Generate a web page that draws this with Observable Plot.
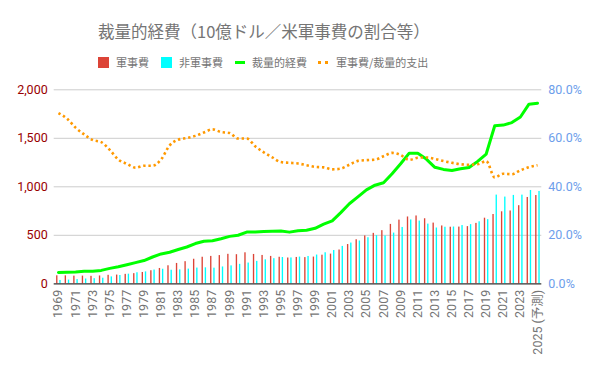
<!DOCTYPE html>
<html><head><meta charset="utf-8">
<script src="https://cdn.jsdelivr.net/npm/d3@7"></script>
<script src="https://cdn.jsdelivr.net/npm/@observablehq/plot@0.6"></script>
<style>
body{margin:0;background:#fff;font-family:Roboto,"Noto Sans CJK JP",sans-serif;}
#wrap{position:relative;width:600px;height:371px;overflow:hidden;background:#fff;}
#title{position:absolute;left:98px;top:21px;font-size:16.5px;line-height:20px;color:#757575;white-space:nowrap;font-family:"Noto Sans CJK JP",sans-serif;}
.lg{position:absolute;font-size:11px;line-height:14px;color:#757575;white-space:nowrap;font-family:"Noto Sans CJK JP",sans-serif;top:55px;}
.sw{position:absolute;}
#chart{position:absolute;left:0;top:80px;}
</style></head>
<body>
<div id="wrap">
  <div id="title">裁量的経費（10億ドル／米軍事費の割合等）</div>
  <div id="legend"></div>
  <div id="chart"></div>
</div>
<script>
const years = [1969,1970,1971,1972,1973,1974,1975,1976,1977,1978,1979,1980,1981,1982,1983,1984,1985,1986,1987,1988,1989,1990,1991,1992,1993,1994,1995,1996,1997,1998,1999,2000,2001,2002,2003,2004,2005,2006,2007,2008,2009,2010,2011,2012,2013,2014,2015,2016,2017,2018,2019,2020,2021,2022,2023,2024,2025];
// 軍事費 (10億ドル)
const defense = [82.6,81.9,79.0,79.3,77.1,80.7,87.6,89.9,97.5,104.6,116.8,134.6,158.0,185.9,209.9,228.0,253.1,273.8,282.5,290.9,304.0,300.1,319.7,302.6,292.4,282.3,273.6,266.0,271.7,270.2,275.5,295.0,306.1,348.5,404.8,454.1,493.6,520.0,547.9,612.4,656.7,688.9,699.4,670.5,625.8,596.4,583.4,584.8,589.6,622.9,676.4,714.4,742.2,750.7,805.4,890,910];
// 非軍事費 (10億ドル)
const nondefense = [34.8,38.4,43.7,49.5,52.9,57.6,71.2,85.6,99.3,113.9,122.9,141.8,149.9,140.0,143.4,151.4,162.1,164.7,161.1,173.5,184.8,200.4,214.0,231.2,247.0,259.1,271.1,266.6,275.6,281.8,296.4,319.9,343.0,385.5,420.0,441.4,474.7,496.6,493.5,522.8,580.8,658.2,646.7,615.4,575.1,583.1,585.4,600.4,610.1,639.3,661.3,914.5,894.1,911.2,914.2,962,952];
// 裁量的経費 (10億ドル)
const total = [117.4,120.3,122.7,128.8,130.0,138.3,158.8,175.5,196.8,218.5,239.7,276.3,307.9,325.8,353.3,379.4,415.2,438.5,443.6,464.4,488.8,500.6,533.7,533.8,539.4,541.4,544.8,532.7,547.3,552.0,572.0,614.8,649.0,734.0,824.8,895.5,968.3,1016.6,1041.4,1135.1,1237.5,1347.1,1346.1,1285.9,1200.9,1179.5,1168.8,1185.2,1199.7,1262.2,1337.7,1628.9,1636.3,1661.9,1719.6,1852,1862];
// 軍事費/裁量的支出 (%)
const ratio = [70.4,68.1,64.4,61.6,59.3,58.4,55.2,51.2,49.5,47.9,48.7,48.7,51.3,57.1,59.4,60.1,61.0,62.4,63.7,62.6,62.2,59.9,59.9,56.7,54.2,52.1,50.2,49.9,49.6,48.9,48.2,48.0,47.2,47.5,49.1,50.7,51.0,51.2,52.6,54.0,53.1,51.1,52.0,52.1,51.5,50.6,49.9,49.3,49.1,49.3,50.6,43.9,45.4,45.2,46.8,48.1,48.9];
const leftTicks = [0,500,1000,1500,2000];
const rightTicks = [0,20,40,60,80];
const xTicks = [1969,1971,1973,1975,1977,1979,1981,1983,1985,1987,1989,1991,1993,1995,1997,1999,2001,2003,2005,2007,2009,2011,2013,2015,2017,2019,2021,2023,2025];
const seriesNames = ["軍事費","非軍事費","裁量的経費","軍事費/裁量的支出"];
const colors = ["#dc4437","#00ffff","#00ff00","#ff9900"];

const rows = years.map((y,i)=>({year:y, defense:defense[i], nondefense:nondefense[i], total:total[i], ratio:ratio[i]}));
const k = 2000/80; // right axis (percent) -> left axis units

const chart = Plot.plot({
  width:600, height:291,
  marginTop:9.3, marginBottom:87.7, marginLeft:53.7, marginRight:58.7,
  style:{fontFamily:'Roboto,"Noto Sans CJK JP",sans-serif', background:"transparent"},
  x:{type:"band", domain:years, padding:0, axis:null},
  y:{domain:[0,2000], axis:null},
  marks:[
    Plot.gridY(leftTicks.slice(1), {stroke:"#cccccc", strokeOpacity:1}),
    Plot.rectY(rows, {x:"year", y:"defense", fill:colors[0], insetLeft:2.4, insetRight:4.8}),
    Plot.rectY(rows, {x:"year", y:"nondefense", fill:colors[1], insetLeft:5.6, insetRight:1.6}),
    Plot.ruleY([0], {stroke:"#333333", strokeWidth:1.3}),
    Plot.lineY(rows, {x:"year", y:"total", stroke:colors[2], strokeWidth:3}),
    Plot.lineY(rows, {x:"year", y:d=>d.ratio*k, stroke:colors[3], strokeWidth:2.6, strokeDasharray:"2.4 2.8", strokeLinecap:"butt", curve:"monotone-x"}),
    Plot.axisY(leftTicks, {anchor:"left", tickSize:0, tickPadding:6.5, fill:"#990000", fontSize:12.5, label:null}),
    Plot.axisY(rightTicks.map(v=>v*k), {anchor:"right", tickSize:0, tickPadding:6.5, fill:"#6d9eeb", fontSize:12.5, label:null, tickFormat:d=>(d/k).toFixed(1)+"%"}),
    Plot.axisX(xTicks, {anchor:"bottom", tickSize:0, tickPadding:6, tickRotate:-90, fill:"#757575", fontSize:12.5, label:null, tickFormat:d=> d===2025 ? "2025 (予測)" : String(d)})
  ]
});
document.getElementById("chart").appendChild(chart);

// legend
const lg = document.getElementById("legend");
const items = [
  {sw:{left:98, top:57, width:11, height:11, background:colors[0]}, text:116},
  {sw:{left:161, top:57, width:11, height:11, background:colors[1]}, text:179},
  {sw:{left:235, top:61, width:10, height:3, background:colors[2]}, text:252},
  {dots:[318,325], text:336}
];
items.forEach((it,i)=>{
  if (it.sw){
    const s=document.createElement("div"); s.className="sw";
    Object.entries(it.sw).forEach(([a,v])=>s.style[a]= typeof v==="number"? v+"px": v);
    lg.appendChild(s);
  } else {
    it.dots.forEach(x=>{const s=document.createElement("div"); s.className="sw";
      Object.assign(s.style,{left:x+"px",top:"61px",width:"3px",height:"3px",background:colors[3]}); lg.appendChild(s);});
  }
  const t=document.createElement("div"); t.className="lg"; t.style.left=it.text+"px"; t.textContent=seriesNames[i]; lg.appendChild(t);
});
</script>
</body></html>
